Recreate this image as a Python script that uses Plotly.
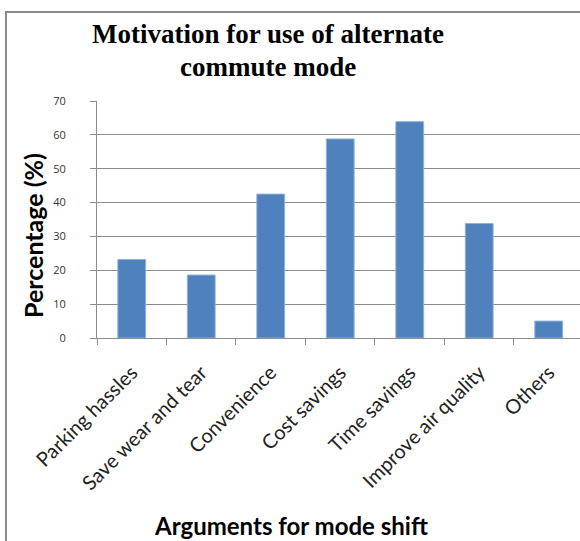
import plotly.graph_objects as go

categories = ["Parking hassles", "Save wear and tear", "Convenience", "Cost savings",
              "Time savings", "Improve air quality", "Others"]
values = [23.2, 18.6, 42.5, 58.8, 63.9, 33.8, 5.0]
y_ticks = [0, 10, 20, 30, 40, 50, 60, 70]

W, H = 580, 541
L, R, T, B = 97, 0, 101, 203
pw, ph = W - L - R, H - T - B

def px(x):
    return (x - L) / pw

def py(y):
    return (H - B - y) / ph

fig = go.Figure(go.Bar(
    x=categories, y=values, width=0.4,
    marker=dict(color="#4f81bd", line=dict(color="#8fb0dc", width=1)),
))

fig.update_layout(
    width=W, height=H,
    margin=dict(l=L, r=R, t=T, b=B),
    paper_bgcolor="white", plot_bgcolor="white",
    showlegend=False,
    shapes=[dict(type="rect", xref="paper", yref="paper", x0=px(6), x1=px(600), y0=py(560), y1=py(12),
                 line=dict(color="#8c8c8c", width=2), fillcolor="rgba(0,0,0,0)", layer="below")],
    annotations=[
        dict(text="<b>Motivation for use of alternate</b>", xref="paper", yref="paper",
             x=px(268), y=py(34), xanchor="center", yanchor="middle", showarrow=False,
             font=dict(family="Liberation Serif", size=27, color="black")),
        dict(text="<b>commute mode</b>", xref="paper", yref="paper",
             x=px(268), y=py(67), xanchor="center", yanchor="middle", showarrow=False,
             font=dict(family="Liberation Serif", size=27, color="black")),
        dict(text="<b>Percentage (%)</b>", xref="paper", yref="paper",
             x=px(33), y=py(236), xanchor="center", yanchor="middle", showarrow=False,
             textangle=-90, font=dict(family="Lato", size=25, color="black")),
        dict(text="<b>Arguments for mode shift</b>", xref="paper", yref="paper",
             x=px(291), y=py(525), xanchor="center", yanchor="middle", showarrow=False,
             font=dict(family="Lato", size=24, color="black")),
    ],
)
fig.update_xaxes(
    range=[-0.5, 6.45], tickangle=-45, tickson="boundaries", ticks="outside", ticklen=6,
    tickcolor="#8c8c8c", showline=True, linecolor="#8c8c8c", linewidth=1,
    tickfont=dict(family="Lato", size=20, color="#222"),
    ticklabelstandoff=14,
    fixedrange=True,
)
fig.update_yaxes(
    range=[0, 70], tickvals=y_ticks, ticks="outside", ticklen=6, tickcolor="#8c8c8c",
    showline=True, linecolor="#8c8c8c", linewidth=1,
    showgrid=True, gridcolor="#8c8c8c", gridwidth=1,
    ticklabelstandoff=22,
    tickfont=dict(family="Open Sans", size=11, color="#333"),
    fixedrange=True,
)

fig.write_html("out.html", config={"displayModeBar": False},
               post_script="document.body.style.margin='0px';")
